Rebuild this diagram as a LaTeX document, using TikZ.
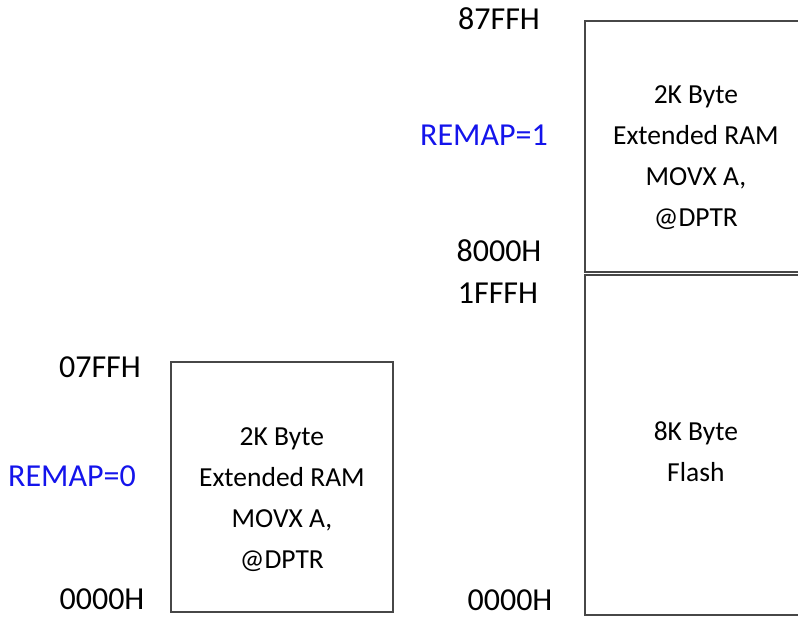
\documentclass[tikz,border=0pt]{standalone}
\usepackage{fontspec}
\setmainfont{Carlito}
\usetikzlibrary{positioning}
\definecolor{remapblue}{RGB}{20,20,235}
\tikzset{every picture/.style={/utils/exec={\fontsize{27.5}{41}\selectfont}}}

\begin{document}
\begin{tikzpicture}[x=1pt, y=-1pt,
    membox/.style={draw=black!72, line width=1.8pt, rectangle, inner sep=0pt,
      anchor=north west, minimum width=222pt},
    boxtext/.style={align=center, inner sep=0pt},
    addr/.style={anchor=base, inner sep=0pt, font=\fontsize{32}{38}\selectfont},
    remap/.style={addr, text=remapblue}]
        \path[use as bounding box, clip] (0,0) rectangle (798,618);

        % Memory blocks
        \node[membox, minimum height=250pt] (ramL) at (170,361) {};
        \node[membox, minimum height=251pt] (ramR) at (584,20) {};
        \node[membox, minimum height=340pt] (flash) at (584,274) {};

        % Block contents
        \node[boxtext] (ramLtxt) at ([yshift=-13]ramL.center) {2K Byte\\Extended RAM\\MOVX A,\\@DPTR};
        \node[boxtext] (ramRtxt) at ([yshift=-11]ramR.center) {2K Byte\\Extended RAM\\MOVX A,\\@DPTR};
        \node[boxtext] (flashtxt) at ([yshift=-7]flash.center) {8K Byte\\Flash};

        % Address labels
        \node[addr] (topR) at (499,30) {87FFH};
        \node[addr] (midR) at (499,261) {8000H};
        \node[addr] (fTop) at (498,303) {1FFFH};
        \node[addr] (botR) at (510,610) {0000H};
        \node[addr] (topL) at (100,377) {07FFH};
        \node[addr] (botL) at (102,609) {0000H};

        % Remap labels
        \node[remap] (remap1) at (484,145) {REMAP=1};
        \node[remap] (remap0) at (72,486) {REMAP=0};
\end{tikzpicture}
\end{document}
